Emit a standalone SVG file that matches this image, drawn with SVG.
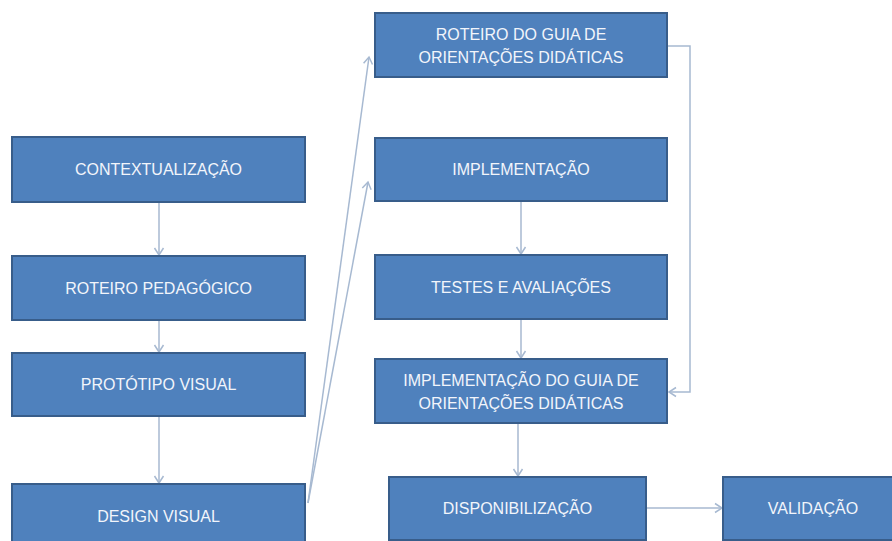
<svg xmlns="http://www.w3.org/2000/svg" width="892" height="541" viewBox="0 0 892 541">
<style>
.box{fill:#4f81bd;stroke:#385d8a;stroke-width:2}
.t{fill:#f2f5fb;font-family:"Liberation Sans",Arial,sans-serif;font-size:16px;text-anchor:middle}
.c{fill:none;stroke:#a7b9d1;stroke-width:1.5}
</style>
<defs>
<marker id="ah" markerUnits="userSpaceOnUse" markerWidth="12" markerHeight="12" refX="9" refY="6" orient="auto">
<path d="M2,1.5 L9,6 L2,10.5" fill="none" stroke="#a7b9d1" stroke-width="1.5"/>
</marker>
</defs>
<rect width="892" height="541" fill="#ffffff"/>
<g id="connectors">
<line class="c" x1="159" y1="202" x2="159" y2="255" marker-end="url(#ah)"/>
<line class="c" x1="159" y1="320" x2="159" y2="352" marker-end="url(#ah)"/>
<line class="c" x1="159" y1="416" x2="159" y2="483" marker-end="url(#ah)"/>
<line class="c" x1="308" y1="503" x2="369" y2="57" marker-end="url(#ah)"/>
<line class="c" x1="308" y1="503" x2="368" y2="182" marker-end="url(#ah)"/>
<polyline class="c" points="668,46 690,46 690,392 669,392" marker-end="url(#ah)"/>
<line class="c" x1="521" y1="201" x2="521" y2="254" marker-end="url(#ah)"/>
<line class="c" x1="521" y1="319" x2="521" y2="358" marker-end="url(#ah)"/>
<line class="c" x1="518" y1="423" x2="518" y2="476" marker-end="url(#ah)"/>
<line class="c" x1="646" y1="508" x2="722" y2="508" marker-end="url(#ah)"/>
</g>
<g id="contextualizacao"><rect class="box" x="12" y="137" width="293" height="65"/><text class="t" x="158.5" y="175">CONTEXTUALIZAÇÃO</text></g>
<g id="roteiro-pedagogico"><rect class="box" x="12" y="256" width="293" height="64"/><text class="t" x="158.5" y="294">ROTEIRO PEDAGÓGICO</text></g>
<g id="prototipo-visual"><rect class="box" x="12" y="353" width="293" height="63"/><text class="t" x="158.5" y="390">PROTÓTIPO VISUAL</text></g>
<g id="design-visual"><rect class="box" x="12" y="484" width="293" height="64"/><text class="t" x="158.5" y="522">DESIGN VISUAL</text></g>
<g id="roteiro-guia"><rect class="box" x="375" y="13" width="292" height="64"/><text class="t" x="521" y="40">ROTEIRO DO GUIA DE</text><text class="t" x="521" y="63">ORIENTAÇÕES DIDÁTICAS</text></g>
<g id="implementacao"><rect class="box" x="375" y="138" width="292" height="63"/><text class="t" x="521" y="175">IMPLEMENTAÇÃO</text></g>
<g id="testes"><rect class="box" x="375" y="255" width="292" height="64"/><text class="t" x="521" y="293">TESTES E AVALIAÇÕES</text></g>
<g id="implementacao-guia"><rect class="box" x="375" y="359" width="292" height="64"/><text class="t" x="521" y="386">IMPLEMENTAÇÃO DO GUIA DE</text><text class="t" x="521" y="409">ORIENTAÇÕES DIDÁTICAS</text></g>
<g id="disponibilizacao"><rect class="box" x="389" y="477" width="257" height="63"/><text class="t" x="517.5" y="514">DISPONIBILIZAÇÃO</text></g>
<g id="validacao"><rect class="box" x="723" y="477" width="180" height="63"/><text class="t" x="813" y="514">VALIDAÇÃO</text></g>
</svg>
